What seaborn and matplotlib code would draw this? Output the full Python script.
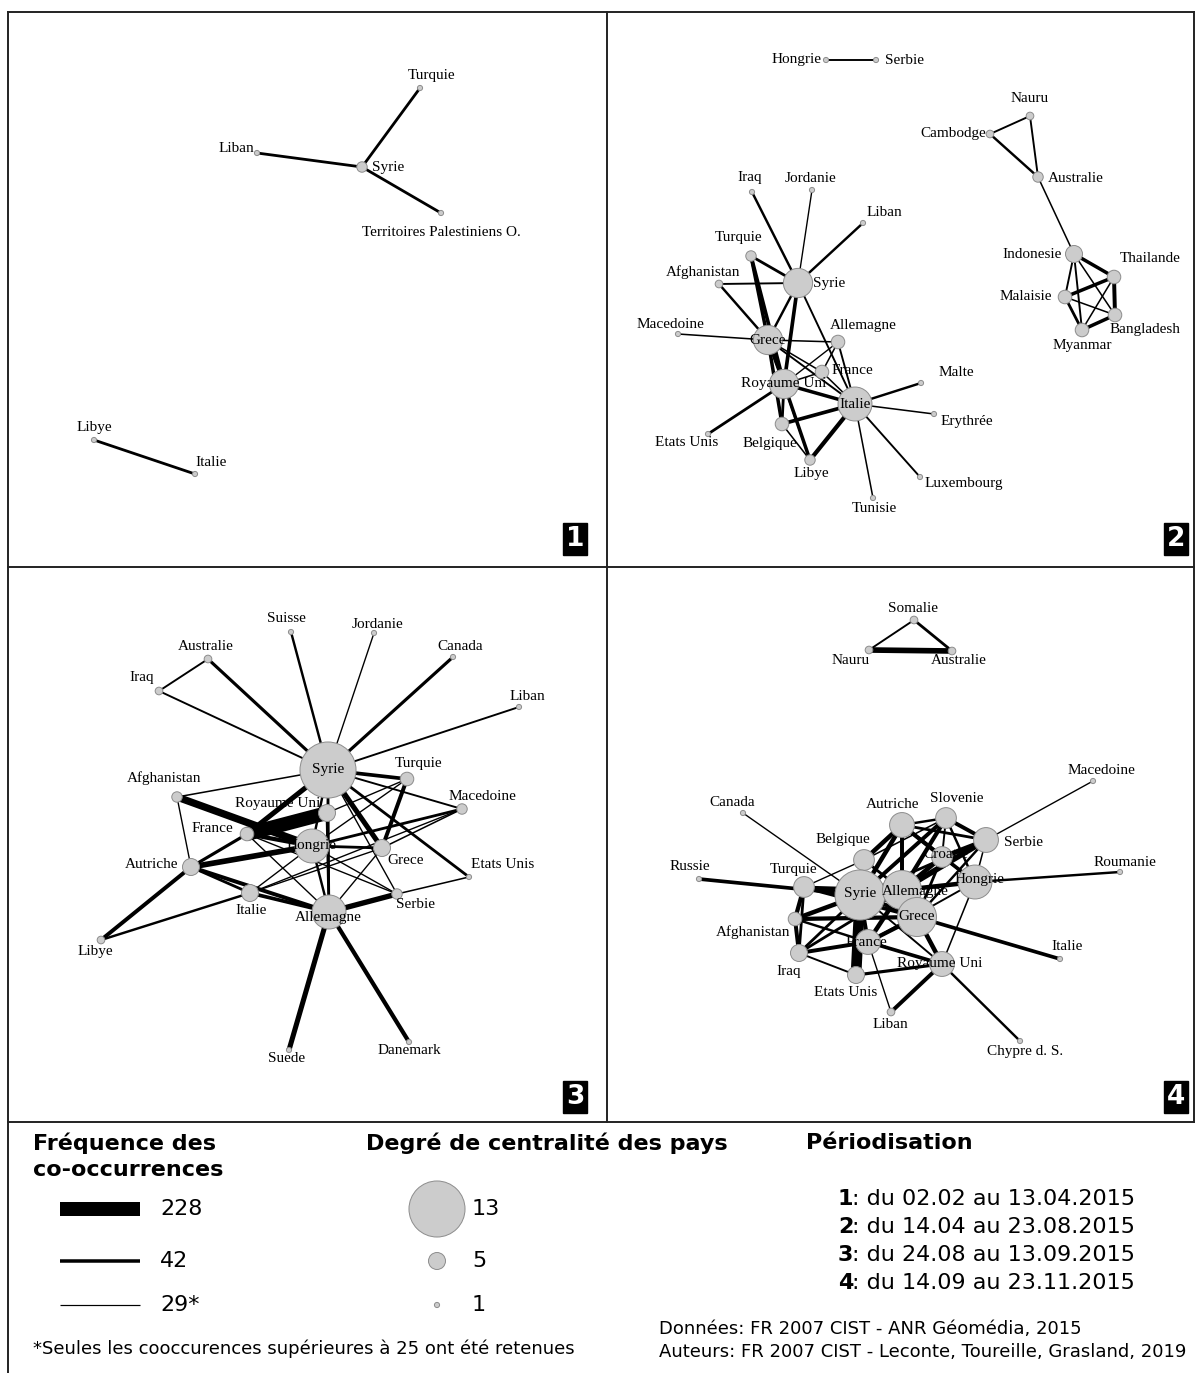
import numpy as np
import pandas as pd
import matplotlib
matplotlib.use('Agg')
import matplotlib.pyplot as plt
import seaborn as sns
from matplotlib.collections import LineCollection

# ---- panel 1 : 02.02 - 13.04.2015
p1_names = ['Turquie', 'Syrie', 'Liban', 'Territoires Palestiniens O.', 'Libye', 'Italie']
p1_x = [420, 362, 257, 441, 94, 195]
p1_y = [88, 167, 153, 213, 440, 474]
p1_deg = [1, 3, 1, 1, 1, 1]
p1_lab = [(12, -13), (26, 0), (-21, -4), (0, 19), (0, -12), (16, -11)]
p1_edges = [('Syrie', 'Turquie', 38), ('Syrie', 'Liban', 38),
            ('Syrie', 'Territoires Palestiniens O.', 38), ('Libye', 'Italie', 38)]

# ---- panel 2 : 14.04 - 23.08.2015
p2_names = ['Hongrie', 'Serbie', 'Nauru', 'Cambodge', 'Australie', 'Indonesie', 'Thailande',
            'Malaisie', 'Bangladesh', 'Myanmar', 'Iraq', 'Jordanie', 'Liban', 'Turquie',
            'Afghanistan', 'Syrie', 'Macedoine', 'Grece', 'Allemagne', 'France', 'Royaume Uni',
            'Italie', 'Belgique', 'Libye', 'Etats Unis', 'Tunisie', 'Malte', 'Erythrée', 'Luxembourg']
p2_x = [826, 876, 1030, 990, 1038, 1074, 1114, 1065, 1115, 1082, 752, 812, 863, 751,
        719, 798, 678, 768, 838, 822, 784, 855, 782, 810, 708, 873, 921, 934, 920]
p2_y = [60, 60, 116, 134, 177, 254, 277, 297, 315, 330, 192, 190, 223, 256,
        284, 283, 334, 340, 342, 372, 384, 404, 424, 460, 434, 498, 383, 414, 477]
p2_deg = [1, 1, 2, 2, 3, 5, 4, 4, 4, 4, 1, 1, 1, 3,
          2, 8, 1, 8, 4, 4, 8, 9, 4, 3, 1, 1, 1, 1, 1]
p2_lab = [(-29, 0), (29, 0), (0, -17), (-37, 0), (38, 1), (-42, 1), (36, -18),
          (-39, 0), (30, 14), (0, 16), (-2, -14), (-1, -12), (21, -10), (-12, -18),
          (-16, -12), (31, 1), (-8, -10), (0, 0), (25, -16), (30, -2), (0, 0),
          (0, 0), (-12, 19), (1, 14), (-21, 9), (1, 11), (35, -11), (33, 8), (44, 6)]
p2_edges = [('Hongrie', 'Serbie', 33), ('Cambodge', 'Nauru', 33), ('Cambodge', 'Australie', 36),
            ('Nauru', 'Australie', 33), ('Australie', 'Indonesie', 31), ('Indonesie', 'Thailande', 42),
            ('Indonesie', 'Malaisie', 33), ('Indonesie', 'Bangladesh', 31), ('Indonesie', 'Myanmar', 33),
            ('Thailande', 'Malaisie', 42), ('Thailande', 'Bangladesh', 50), ('Thailande', 'Myanmar', 31),
            ('Malaisie', 'Bangladesh', 31), ('Malaisie', 'Myanmar', 38), ('Myanmar', 'Bangladesh', 42),
            ('Syrie', 'Iraq', 36), ('Syrie', 'Jordanie', 30), ('Syrie', 'Liban', 36), ('Syrie', 'Turquie', 38),
            ('Syrie', 'Afghanistan', 33), ('Syrie', 'Grece', 36), ('Syrie', 'Royaume Uni', 45),
            ('Syrie', 'Italie', 33), ('Turquie', 'Grece', 42), ('Turquie', 'Royaume Uni', 45),
            ('Afghanistan', 'Grece', 36), ('Macedoine', 'Grece', 31), ('Grece', 'Allemagne', 31),
            ('Grece', 'Royaume Uni', 42), ('Grece', 'Italie', 33), ('Grece', 'France', 31),
            ('Grece', 'Belgique', 42), ('Grece', 'Libye', 33), ('Allemagne', 'Royaume Uni', 30),
            ('Allemagne', 'Italie', 33), ('Allemagne', 'France', 31), ('France', 'Royaume Uni', 31),
            ('France', 'Italie', 31), ('Royaume Uni', 'Italie', 42), ('Royaume Uni', 'Belgique', 38),
            ('Royaume Uni', 'Libye', 42), ('Royaume Uni', 'Etats Unis', 38), ('Italie', 'Belgique', 45),
            ('Italie', 'Libye', 55), ('Italie', 'Malte', 36), ('Italie', 'Erythrée', 31),
            ('Italie', 'Luxembourg', 33), ('Italie', 'Tunisie', 31), ('Belgique', 'Libye', 31)]

# ---- panel 3 : 24.08 - 13.09.2015
p3_names = ['Suisse', 'Jordanie', 'Australie', 'Canada', 'Iraq', 'Liban', 'Syrie', 'Turquie',
            'Afghanistan', 'Macedoine', 'Royaume Uni', 'France', 'Hongrie', 'Grece', 'Autriche',
            'Etats Unis', 'Italie', 'Serbie', 'Allemagne', 'Libye', 'Suede', 'Danemark']
p3_x = [291, 374, 208, 453, 159, 519, 328, 407, 177, 462, 327, 247, 312, 382, 191,
        469, 250, 397, 329, 101, 289, 409]
p3_y = [632, 633, 659, 657, 691, 707, 770, 779, 797, 809, 813, 834, 846, 848, 867,
        877, 893, 894, 912, 940, 1050, 1042]
p3_deg = [1, 1, 2, 1, 2, 1, 13, 4, 3, 3, 5, 4, 9, 5, 5, 1, 5, 3, 9, 2, 1, 1]
p3_lab = [(-5, -13), (4, -9), (-2, -12), (7, -11), (-17, -14), (8, -10), (0, 0), (12, -16),
          (-13, -19), (20, -13), (-49, -10), (-35, -6), (0, 0), (24, 13), (-39, -3),
          (34, -13), (1, 18), (19, 11), (-1, 6), (-6, 12), (-2, 9), (0, 9)]
p3_edges = [('Syrie', 'Iraq', 33), ('Syrie', 'Australie', 40), ('Syrie', 'Suisse', 36),
            ('Syrie', 'Jordanie', 30), ('Syrie', 'Canada', 40), ('Syrie', 'Liban', 33),
            ('Iraq', 'Australie', 33), ('Syrie', 'Turquie', 45), ('Syrie', 'Afghanistan', 31),
            ('Syrie', 'Macedoine', 33), ('Syrie', 'Royaume Uni', 30), ('Syrie', 'France', 70),
            ('Syrie', 'Hongrie', 36), ('Syrie', 'Grece', 70), ('Syrie', 'Etats Unis', 38),
            ('Syrie', 'Allemagne', 36), ('Syrie', 'Serbie', 30), ('Afghanistan', 'Hongrie', 110),
            ('Afghanistan', 'Autriche', 30), ('France', 'Royaume Uni', 228), ('France', 'Hongrie', 55),
            ('France', 'Autriche', 40), ('France', 'Allemagne', 30), ('France', 'Serbie', 30),
            ('Autriche', 'Hongrie', 80), ('Autriche', 'Allemagne', 50), ('Autriche', 'Libye', 50),
            ('Autriche', 'Italie', 38), ('Italie', 'Libye', 36), ('Italie', 'Allemagne', 45),
            ('Italie', 'Hongrie', 30), ('Italie', 'Grece', 30), ('Italie', 'Macedoine', 30),
            ('Turquie', 'Grece', 50), ('Turquie', 'Hongrie', 30), ('Turquie', 'Royaume Uni', 30),
            ('Macedoine', 'Hongrie', 38), ('Macedoine', 'Grece', 31), ('Grece', 'Hongrie', 38),
            ('Grece', 'Allemagne', 30), ('Hongrie', 'Allemagne', 36), ('Hongrie', 'Serbie', 30),
            ('Serbie', 'Allemagne', 75), ('Serbie', 'Etats Unis', 31), ('Allemagne', 'Suede', 70),
            ('Allemagne', 'Danemark', 55), ('Allemagne', 'Royaume Uni', 38)]

# ---- panel 4 : 14.09 - 23.11.2015
p4_names = ['Somalie', 'Nauru', 'Australie', 'Macedoine', 'Canada', 'Russie', 'Autriche',
            'Slovenie', 'Serbie', 'Belgique', 'Croatie', 'Turquie', 'Syrie', 'Allemagne',
            'Hongrie', 'Grece', 'Afghanistan', 'France', 'Iraq', 'Royaume Uni', 'Etats Unis',
            'Liban', 'Roumanie', 'Italie', 'Chypre d. S.']
p4_x = [914, 869, 952, 1093, 743, 699, 902, 946, 986, 864, 942, 804, 860, 902,
        975, 917, 795, 868, 799, 942, 856, 891, 1120, 1060, 1020]
p4_y = [620, 650, 651, 781, 813, 879, 825, 818, 840, 860, 857, 887, 895, 890,
        882, 917, 919, 942, 953, 964, 975, 1012, 872, 959, 1041]
p4_deg = [2, 2, 2, 1, 1, 1, 7, 6, 7, 6, 6, 6, 12, 10, 9, 10, 4, 7, 5, 7, 5, 2, 1, 1, 1]
p4_lab = [(-1, -12), (-18, 10), (7, 10), (8, -11), (-11, -11), (-9, -12), (-9, -20),
          (11, -19), (38, 2), (-21, -20), (4, -2), (-10, -18), (0, -2), (13, 1),
          (5, -2), (0, 0), (-42, 13), (-2, 0), (-10, 19), (-2, 0), (-10, 18),
          (-1, 13), (5, -9), (7, -12), (5, 11)]
p4_edges = [('Somalie', 'Nauru', 33), ('Somalie', 'Australie', 38), ('Nauru', 'Australie', 80),
            ('Serbie', 'Macedoine', 30), ('Syrie', 'Russie', 45), ('Syrie', 'Canada', 30),
            ('Syrie', 'Turquie', 60), ('Syrie', 'Afghanistan', 60), ('Syrie', 'Iraq', 38),
            ('Syrie', 'France', 50), ('Syrie', 'Etats Unis', 170), ('Syrie', 'Belgique', 38),
            ('Syrie', 'Autriche', 60), ('Syrie', 'Slovenie', 50), ('Syrie', 'Allemagne', 45),
            ('Syrie', 'Grece', 50), ('Syrie', 'Hongrie', 38), ('Syrie', 'Serbie', 38),
            ('Syrie', 'Royaume Uni', 33), ('Turquie', 'Afghanistan', 55), ('Turquie', 'Iraq', 38),
            ('Turquie', 'Grece', 50), ('Turquie', 'Allemagne', 38), ('Afghanistan', 'Iraq', 50),
            ('Afghanistan', 'Grece', 55), ('Afghanistan', 'France', 36), ('Iraq', 'France', 50),
            ('Iraq', 'Etats Unis', 33), ('Iraq', 'Allemagne', 38), ('France', 'Allemagne', 60),
            ('France', 'Grece', 55), ('France', 'Royaume Uni', 45), ('France', 'Liban', 30),
            ('France', 'Hongrie', 33), ('Etats Unis', 'Royaume Uni', 40), ('Royaume Uni', 'Grece', 60),
            ('Royaume Uni', 'Liban', 50), ('Royaume Uni', 'Chypre d. S.', 36),
            ('Royaume Uni', 'Hongrie', 31), ('Royaume Uni', 'Allemagne', 38), ('Grece', 'Italie', 45),
            ('Grece', 'Serbie', 36), ('Grece', 'Croatie', 38), ('Allemagne', 'Autriche', 50),
            ('Allemagne', 'Slovenie', 55), ('Allemagne', 'Serbie', 80), ('Allemagne', 'Croatie', 60),
            ('Allemagne', 'Hongrie', 60), ('Allemagne', 'Belgique', 38), ('Autriche', 'Slovenie', 36),
            ('Autriche', 'Serbie', 38), ('Autriche', 'Croatie', 50), ('Autriche', 'Hongrie', 45),
            ('Autriche', 'Belgique', 60), ('Slovenie', 'Serbie', 50), ('Slovenie', 'Croatie', 33),
            ('Slovenie', 'Hongrie', 36), ('Slovenie', 'Belgique', 31), ('Serbie', 'Croatie', 55),
            ('Serbie', 'Hongrie', 31), ('Croatie', 'Hongrie', 33), ('Hongrie', 'Roumanie', 36),
            ('Belgique', 'Turquie', 30)]

# ---- legend
leg_weights = [228, 42, 29]
leg_weight_labels = ['228', '42', '29*']
leg_degrees = [13, 5, 1]
periods = [('1', ': du 02.02 au 13.04.2015'), ('2', ': du 14.04 au 23.08.2015'),
           ('3', ': du 24.08 au 13.09.2015'), ('4', ': du 14.09 au 23.11.2015')]


def edge_width(w):
    # co-occurrence -> line width (px -> pt)
    return np.interp(w, [25, 29, 42, 228], [0.8, 1.2, 3.5, 14.0]) * 0.72


def node_area(deg):
    d = 3 + 2 * np.asarray(deg, float) + 0.16 * np.asarray(deg, float) ** 2  # diameter px
    return (d * 0.72) ** 2


panels = [(p1_names, p1_x, p1_y, p1_deg, p1_lab, p1_edges),
          (p2_names, p2_x, p2_y, p2_deg, p2_lab, p2_edges),
          (p3_names, p3_x, p3_y, p3_deg, p3_lab, p3_edges),
          (p4_names, p4_x, p4_y, p4_deg, p4_lab, p4_edges)]

fig = plt.figure(figsize=(11.95, 13.73), dpi=100)
ax = fig.add_axes([0, 0, 1, 1])
ax.set_xlim(0, 1195)
ax.set_ylim(1373, 0)
ax.axis('off')

frames = []
for names, xs, ys, deg, lab, edges in panels:
    pos = {n: (x, y) for n, x, y in zip(names, xs, ys)}
    segs = [[pos[a], pos[b]] for a, b, w in edges]
    lws = [edge_width(w) for a, b, w in edges]
    ax.add_collection(LineCollection(segs, colors='black', linewidths=lws, zorder=2,
                                     capstyle='butt'))
    frames.append(pd.DataFrame({'name': names, 'x': xs, 'y': ys, 'area': node_area(deg),
                                'dx': [l[0] for l in lab], 'dy': [l[1] for l in lab]}))

nodes = pd.concat(frames, ignore_index=True)
sns.scatterplot(data=nodes, x='x', y='y', size='area',
                sizes=(nodes['area'].min(), nodes['area'].max()),
                color='#cccccc', edgecolor='#8c8c8c', linewidth=0.7,
                legend=False, ax=ax, zorder=3)
for _, r in nodes.iterrows():
    ax.text(r.x + r.dx, r.y + r.dy, r['name'], ha='center', va='center',
            fontfamily='Liberation Serif', fontsize=11, zorder=4)

# frame
fk = dict(color='#222222', lw=1.4, zorder=5)
ax.plot([8, 1194], [12, 12], **fk)
ax.plot([8, 1194], [567, 567], **fk)
ax.plot([8, 1194], [1122, 1122], **fk)
ax.plot([8, 8], [12, 1373], **fk)
ax.plot([607, 607], [12, 1122], **fk)
ax.plot([1194, 1194], [12, 1122], **fk)

for num, (bx, by) in zip(['1', '2', '3', '4'], [(575, 539), (1176, 539), (575, 1097), (1176, 1097)]):
    ax.text(bx, by, num, ha='center', va='center', color='white', fontsize=19,
            fontweight='bold', fontfamily='DejaVu Sans', zorder=6,
            bbox=dict(boxstyle='square,pad=0.12', fc='black', ec='black'))

# legend
sf = dict(fontfamily='DejaVu Sans')
ax.text(33, 1143, 'Fréquence des', fontsize=16, fontweight='bold', va='center', **sf)
ax.text(33, 1170, 'co-occurrences', fontsize=16, fontweight='bold', va='center', **sf)
ax.text(366, 1143, 'Degré de centralité des pays', fontsize=16, fontweight='bold', va='center', **sf)
ax.text(806, 1143, 'Périodisation', fontsize=16, fontweight='bold', va='center', **sf)

leg_y = [1209, 1261, 1305]
for w, lbl, yy in zip(leg_weights, leg_weight_labels, leg_y):
    ax.plot([60, 140], [yy, yy], color='black', lw=edge_width(w), solid_capstyle='butt')
    ax.text(160, yy, lbl, fontsize=16, va='center', **sf)

leg_nodes = pd.DataFrame({'x': [437, 437, 437], 'y': leg_y, 'area': node_area(leg_degrees)})
sns.scatterplot(data=leg_nodes, x='x', y='y', size='area',
                sizes=(leg_nodes['area'].min(), leg_nodes['area'].max()),
                color='#cccccc', edgecolor='#8c8c8c', linewidth=0.7, legend=False, ax=ax)
for d, yy in zip(leg_degrees, leg_y):
    ax.text(472, yy, str(d), fontsize=16, va='center', **sf)

for i, (num, txt) in enumerate(periods):
    yy = 1199 + i * 28
    ax.text(838, yy, num, fontsize=16, fontweight='bold', va='center', **sf)
    ax.text(852, yy, txt, fontsize=16, va='center', **sf)

ax.text(33, 1349, '*Seules les cooccurences supérieures à 25 ont été retenues', fontsize=13,
        va='center', **sf)
ax.text(659, 1329, 'Données: FR 2007 CIST - ANR Géomédia, 2015', fontsize=13, va='center', **sf)
ax.text(659, 1352, 'Auteurs: FR 2007 CIST - Leconte, Toureille, Grasland, 2019', fontsize=13,
        va='center', **sf)

ax.set_xlim(0, 1195)
ax.set_ylim(1373, 0)
fig.savefig('out.png', dpi=100)
